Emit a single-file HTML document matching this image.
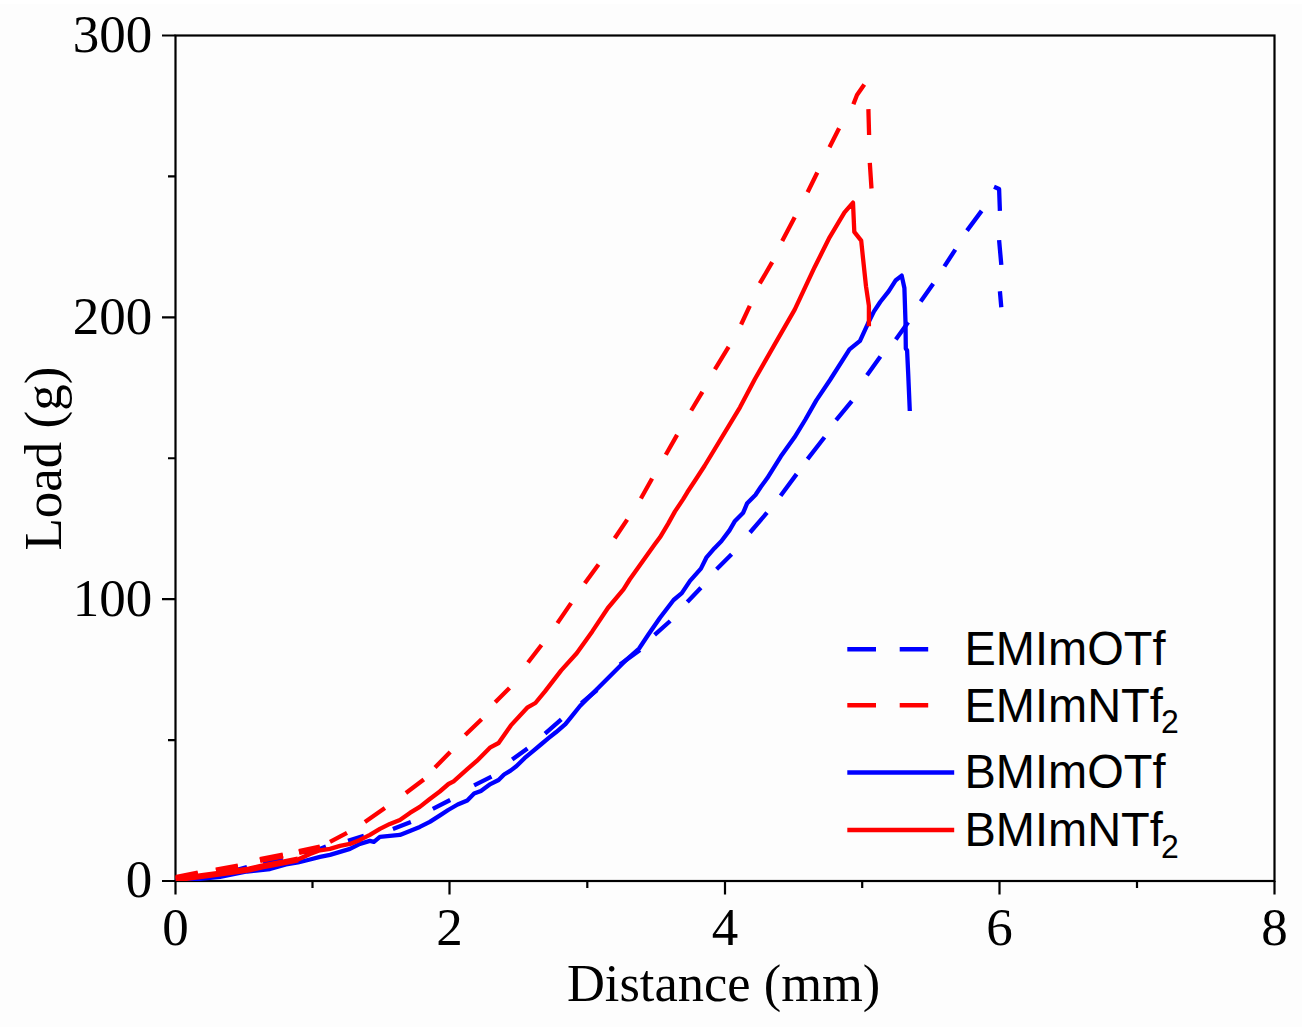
<!DOCTYPE html>
<html><head><meta charset="utf-8"><title>Load vs Distance</title>
<style>html,body{margin:0;padding:0;background:#fdfdfd;}body{width:1302px;height:1027px;overflow:hidden;}svg{display:block;}</style>
</head><body>
<svg width="1302" height="1027" viewBox="0 0 1302 1027">
<rect x="0" y="0" width="1302" height="4" fill="#fff"/>
<defs><clipPath id="cp"><rect x="175.5" y="35.5" width="1099.0" height="845.5"/></clipPath></defs>
<rect x="175.5" y="35.5" width="1099.0" height="845.5" fill="none" stroke="#000" stroke-width="2.2"/>
<path d="M162.0 881.00 H175.5 M168.0 740.08 H175.5 M162.0 599.17 H175.5 M168.0 458.25 H175.5 M162.0 317.33 H175.5 M168.0 176.42 H175.5 M162.0 35.50 H175.5 M175.50 881.0 V894.5 M312.50 881.0 V888.0 M449.50 881.0 V894.5 M587.30 881.0 V888.0 M725.00 881.0 V894.5 M862.20 881.0 V888.0 M999.50 881.0 V894.5 M1137.00 881.0 V888.0 M1274.50 881.0 V894.5" stroke="#000" stroke-width="2.2" fill="none"/>
<g clip-path="url(#cp)" fill="none" stroke-width="4.3" stroke-linejoin="round" stroke-linecap="butt">
<path d="M176.0 880.0 L198.0 876.5 M222.0 874.0 L247.0 867.0 M263.0 862.0 L283.0 860.0 M305.0 855.0 L326.0 846.5 M348.0 840.9 L363.9 835.9 M392.9 828.9 L410.9 821.9 M432.8 808.9 L450.2 800.0 M474.1 785.4 L491.5 776.6 M512.2 759.5 L527.5 748.5 M545.0 733.6 L561.3 719.3 M581.4 703.1 L597.0 690.0 M620.0 664.5 L640.0 650.0 M654.6 634.8 L670.2 621.0 M687.3 602.0 L700.9 587.7 M716.6 569.3 L731.6 554.3 M750.0 532.5 L767.0 512.7 M780.6 495.7 L796.6 474.1 M807.5 459.1 L824.5 437.3 M836.1 420.2 L851.8 401.1 M867.0 375.2 L880.4 356.5 M895.8 339.4 L908.2 322.3 M920.7 301.5 L933.2 283.8 M944.4 266.4 L955.3 249.6 M967.0 230.6 L981.6 210.9 M994.0 186.8 L999.1 189.0 L999.9 210.9 M999.1 240.1 L1001.3 264.9 M999.9 291.2 L1001.3 307.2" stroke="#0000ff"/>
<path d="M175.5 878.0 L198.0 873.5 M216.0 870.5 L238.0 866.5 M260.0 860.0 L283.0 855.5 M299.0 852.0 L320.0 847.5 M330.0 841.9 L347.0 832.9 M364.9 821.9 L384.9 807.9 M405.9 793.0 L423.8 779.5 M435.0 767.5 L450.2 752.0 M465.2 735.0 L481.6 719.3 M495.2 702.3 L509.5 688.0 M528.0 662.5 L541.5 645.0 M557.4 623.1 L571.1 603.1 M584.8 583.2 L598.5 564.5 M614.7 538.3 L627.2 519.6 M640.9 498.5 L652.1 478.5 M665.8 454.8 L677.1 434.9 M691.2 410.5 L702.4 391.8 M714.9 369.4 L728.6 346.9 M741.1 324.5 L749.8 305.8 M759.8 283.4 L772.2 262.2 M782.2 241.0 L794.7 217.3 M807.6 192.2 L817.3 172.5 M829.5 147.2 L839.1 128.2 M853.4 104.3 L857.0 95.0 L864.3 84.5 M868.4 109.1 L869.1 135.0 M869.8 162.8 L871.5 188.5" stroke="#ff0000"/>
<path d="M175.5 878.0 L198.0 873.5 M216.0 870.5 L238.0 866.5 M260.0 860.0 L283.0 855.5 M299.0 852.0 L320.0 847.5" stroke="#ff0000" stroke-width="6.0"/>
<path d="M175.5 881.0 L200.0 878.8 L220.0 876.8 L247.0 871.5 L270.0 869.0 L286.0 864.5 L298.0 862.5 L310.0 859.5 L320.0 856.9 L330.0 854.9 L340.0 851.9 L350.0 848.9 L359.9 843.9 L369.9 840.9 L373.9 841.9 L379.9 836.9 L389.9 835.9 L399.9 834.9 L409.9 830.9 L419.8 826.9 L429.8 821.9 L440.0 815.4 L448.2 810.0 L457.7 804.5 L467.3 800.4 L474.1 793.6 L480.9 790.9 L490.4 784.1 L498.6 780.0 L504.1 774.5 L510.9 770.4 L516.3 766.3 L524.5 758.2 L532.7 751.3 L540.9 744.5 L549.1 737.7 L555.9 732.3 L565.4 724.1 L570.9 717.3 L580.0 706.0 L600.1 685.9 L612.6 673.5 L626.6 659.5 L639.1 648.5 L648.4 634.5 L660.0 617.7 L673.6 600.0 L681.8 593.1 L690.0 580.9 L700.9 568.6 L706.3 557.7 L714.5 548.2 L721.3 541.3 L729.5 530.4 L735.0 520.9 L743.2 512.7 L747.2 503.2 L755.4 495.0 L760.9 486.8 L767.3 478.1 L780.9 456.3 L794.5 437.3 L805.4 419.5 L816.3 400.4 L830.0 380.0 L849.5 349.4 L860.0 340.9 L867.8 323.8 L874.0 311.4 L880.2 302.0 L888.8 291.1 L895.8 280.2 L901.7 275.6 L904.4 288.0 L905.5 322.0 L905.8 348.5 L907.1 350.5 L908.2 373.6 L909.8 411.0" stroke="#0000ff"/>
<path d="M175.5 879.5 L190.0 877.5 L200.0 876.3 L215.0 874.3 L233.0 871.8 L249.0 869.5 L262.0 866.5 L283.0 862.5 L298.0 859.5 L310.0 854.0 L320.0 850.3 L330.0 848.9 L340.0 845.9 L350.0 843.9 L359.9 839.9 L369.9 834.9 L379.9 828.9 L389.9 823.9 L399.9 819.9 L409.9 812.9 L419.8 806.9 L429.8 799.0 L439.8 791.5 L448.5 784.0 L453.6 781.3 L467.3 769.1 L476.8 760.9 L490.4 747.3 L498.6 743.0 L510.9 725.4 L527.2 707.7 L535.4 703.0 L545.0 691.4 L561.2 670.4 L576.7 653.2 L592.3 631.4 L607.9 608.0 L623.5 589.3 L629.7 579.5 L654.6 544.6 L660.0 537.3 L668.2 523.6 L675.0 511.4 L683.2 499.1 L687.3 492.3 L695.4 480.0 L704.5 466.0 L729.4 424.9 L740.0 407.3 L754.8 379.3 L774.7 344.4 L794.7 309.6 L814.6 267.2 L829.6 237.3 L844.5 212.3 L853.0 202.6 L854.3 231.8 L861.2 240.6 L863.1 259.0 L866.0 286.3 L868.9 305.8 L868.9 326.2" stroke="#ff0000"/>
<path d="M175.5 879.5 L190.0 877.5 L200.0 876.3 L215.0 874.3 L233.0 871.8 L249.0 869.5 L262.0 866.5 L283.0 862.5 L298.0 859.5" stroke="#ff0000" stroke-width="6.0"/>
</g>
<text x="152.3" y="897.3" text-anchor="end" font-family="&apos;Liberation Serif&apos;, serif" font-size="53">0</text>
<text x="152.3" y="615.5" text-anchor="end" font-family="&apos;Liberation Serif&apos;, serif" font-size="53">100</text>
<text x="152.3" y="333.6" text-anchor="end" font-family="&apos;Liberation Serif&apos;, serif" font-size="53">200</text>
<text x="152.3" y="51.8" text-anchor="end" font-family="&apos;Liberation Serif&apos;, serif" font-size="53">300</text>
<text x="175.5" y="944.5" text-anchor="middle" font-family="&apos;Liberation Serif&apos;, serif" font-size="53">0</text>
<text x="449.5" y="944.5" text-anchor="middle" font-family="&apos;Liberation Serif&apos;, serif" font-size="53">2</text>
<text x="725.0" y="944.5" text-anchor="middle" font-family="&apos;Liberation Serif&apos;, serif" font-size="53">4</text>
<text x="999.5" y="944.5" text-anchor="middle" font-family="&apos;Liberation Serif&apos;, serif" font-size="53">6</text>
<text x="1274.5" y="944.5" text-anchor="middle" font-family="&apos;Liberation Serif&apos;, serif" font-size="53">8</text>
<text x="723.6" y="1000.8" text-anchor="middle" font-family="&apos;Liberation Serif&apos;, serif" font-size="52.5">Distance (mm)</text>
<text transform="translate(61.1 458.6) rotate(-90)" text-anchor="middle" font-family="&apos;Liberation Serif&apos;, serif" font-size="53">Load (g)</text>
<path d="M847.3 649.2 H876 M899.7 649.2 H928.2" stroke="#0000ff" stroke-width="4.5"/>
<text transform="translate(964.5 665) scale(1 1.035)" font-family="&apos;Liberation Sans&apos;, sans-serif" font-size="47">EMImOTf</text>
<path d="M847.3 705.3 H876 M899.7 705.3 H928.2" stroke="#ff0000" stroke-width="4.5"/>
<text transform="translate(964.5 721.6) scale(1 1.035)" font-family="&apos;Liberation Sans&apos;, sans-serif" font-size="47">EMImNTf<tspan font-size="32" dx="-1.8" dy="11.2">2</tspan></text>
<path d="M847.3 772.5 H954.2" stroke="#0000ff" stroke-width="4.5"/>
<text transform="translate(964.5 788) scale(1 1.035)" font-family="&apos;Liberation Sans&apos;, sans-serif" font-size="47">BMImOTf</text>
<path d="M847.3 829.9 H954.2" stroke="#ff0000" stroke-width="4.5"/>
<text transform="translate(964.5 846) scale(1 1.035)" font-family="&apos;Liberation Sans&apos;, sans-serif" font-size="47">BMImNTf<tspan font-size="32" dx="-1.8" dy="11.2">2</tspan></text>
</svg>
</body></html>
